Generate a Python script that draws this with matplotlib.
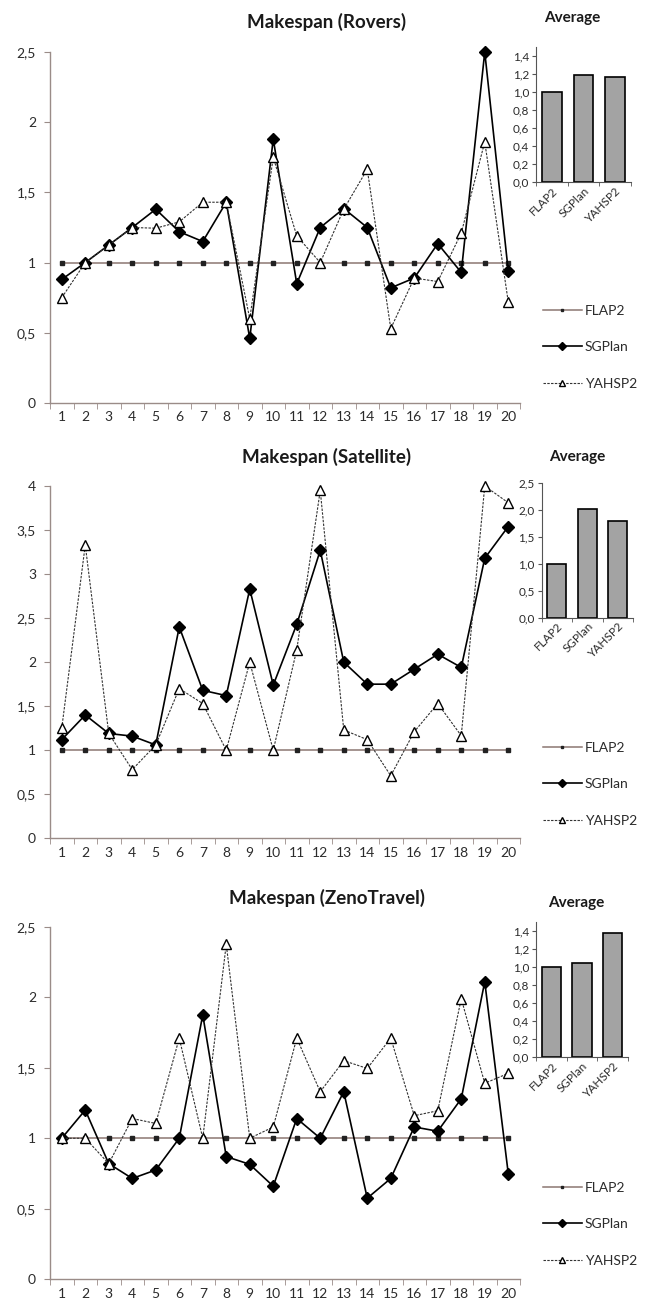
from matplotlib import pyplot as plt
from matplotlib.ticker import FuncFormatter, FixedLocator
import numpy as np

plt.rcParams['font.family'] = ['Lato', 'DejaVu Sans']

W, H = 645, 1307

problems = list(range(1, 21))
planners = ["FLAP2", "SGPlan", "YAHSP2"]

rovers_flap2 = [1] * 20
rovers_sgplan = [0.88, 1.0, 1.125, 1.25, 1.38, 1.22, 1.15, 1.43, 0.46, 1.88,
                 0.85, 1.25, 1.385, 1.25, 0.82, 0.89, 1.135, 0.93, 2.5, 0.94]
rovers_yahsp2 = [0.75, 1.0, 1.125, 1.25, 1.245, 1.29, 1.43, 1.43, 0.60, 1.75,
                 1.19, 1.0, 1.38, 1.665, 0.53, 0.89, 0.865, 1.21, 1.86, 0.72]
rovers_avg = [1.0, 1.19, 1.17]

satellite_flap2 = [1] * 20
satellite_sgplan = [1.12, 1.40, 1.19, 1.16, 1.06, 2.40, 1.68, 1.62, 2.83, 1.74,
                    2.43, 3.27, 2.0, 1.75, 1.75, 1.92, 2.09, 1.94, 3.18, 3.54]
satellite_yahsp2 = [1.25, 3.33, 1.19, 0.78, 1.06, 1.70, 1.53, 1.0, 2.0, 1.0,
                    2.14, 3.95, 1.23, 1.12, 0.71, 1.21, 1.53, 1.165, 4.0, 3.81]
satellite_avg = [1.0, 2.03, 1.80]

zeno_flap2 = [1] * 20
zeno_sgplan = [1.0, 1.20, 0.82, 0.715, 0.775, 1.0, 1.875, 0.87, 0.815, 0.66,
               1.14, 1.0, 1.33, 0.575, 0.715, 1.08, 1.05, 1.28, 2.11, 0.75]
zeno_yahsp2 = [1.0, 1.0, 0.82, 1.14, 1.105, 1.71, 1.0, 2.375, 1.0, 1.08,
               1.71, 1.33, 1.55, 1.495, 1.71, 1.16, 1.195, 1.99, 1.39, 1.46]
zeno_avg = [1.0, 1.045, 1.375]

panels = [
    dict(title="Makespan (Rovers)", flap2=rovers_flap2, sgplan=rovers_sgplan,
         yahsp2=rovers_yahsp2, avg=rovers_avg, ymax=2.5, ystep=0.5,
         main=(50, 520, 52, 403), inset=(536, 631, 46.7, 182.3),
         imax=1.5, iticks=np.arange(0, 1.41, 0.2),
         title_y=22, avg_x=572, avg_y=18, leg_y=305),
    dict(title="Makespan (Satellite)", flap2=satellite_flap2, sgplan=satellite_sgplan,
         yahsp2=satellite_yahsp2, avg=satellite_avg, ymax=4, ystep=0.5,
         main=(50, 520, 486, 838.3), inset=(541.7, 633, 483.3, 617.7),
         imax=2.5, iticks=np.arange(0, 2.51, 0.5),
         title_y=457, avg_x=577, avg_y=457, leg_y=742),
    dict(title="Makespan (ZenoTravel)", flap2=zeno_flap2, sgplan=zeno_sgplan,
         yahsp2=zeno_yahsp2, avg=zeno_avg, ymax=2.5, ystep=0.5,
         main=(50, 520, 926.7, 1279.3), inset=(536, 628, 921.7, 1057.3),
         imax=1.5, iticks=np.arange(0, 1.41, 0.2),
         title_y=898, avg_x=576, avg_y=903, leg_y=1182),
]

axis_col = '#9a8c88'
text_col = '#2b2b2b'


def fig_rect(l, r, t, b):
    return [l / W, 1 - b / H, (r - l) / W, (b - t) / H]


fig = plt.figure(figsize=(W / 100, H / 100), dpi=100)

for p in panels:
    ax = fig.add_axes(fig_rect(*p["main"]))
    ax.plot(problems, p["flap2"], color='#8c7672', lw=1.1, marker='s', ms=3,
            mfc='#222222', mec='#222222', label="FLAP2", zorder=2)
    ax.plot(problems, p["sgplan"], color='black', lw=1.2, marker='D', ms=6.5,
            mfc='black', mec='black', label="SGPlan", zorder=3, clip_on=False)
    ax.plot(problems, p["yahsp2"], color='#333333', lw=0.8, ls=(0, (2.2, 1.2)),
            marker='^', ms=6.5, mfc='white', mec='black', mew=1.0,
            label="YAHSP2", zorder=4, clip_on=False)
    ax.set_xlim(0.5, 20.5)
    ax.set_ylim(0, p["ymax"])
    ax.set_xticks(problems)
    ax.xaxis.set_minor_locator(FixedLocator(np.arange(0.5, 21, 1)))
    ax.tick_params(axis='x', which='major', length=0, pad=6, labelsize=10,
                   labelcolor=text_col)
    ax.tick_params(axis='x', which='minor', length=4, color=axis_col, direction='out')
    ax.set_yticks(np.arange(0, p["ymax"] + 0.01, p["ystep"]))
    ax.yaxis.set_major_formatter(FuncFormatter(lambda v, _: f"{v:g}".replace('.', ',')))
    ax.tick_params(axis='y', length=4, color=axis_col, labelsize=10,
                   labelcolor=text_col, pad=6)
    for s in ['top', 'right']:
        ax.spines[s].set_visible(False)
    for s in ['left', 'bottom']:
        ax.spines[s].set_color(axis_col)
        ax.spines[s].set_linewidth(1.0)

    leg = ax.legend(loc='upper left', bbox_to_anchor=(543 / W, 1 - p["leg_y"] / H),
                    bbox_transform=fig.transFigure, frameon=False, fontsize=10,
                    handlelength=2.8, handletextpad=0.2, labelspacing=1.75,
                    borderpad=0, borderaxespad=0, markerscale=0.7)
    for t in leg.get_texts():
        t.set_color(text_col)

    fig.text(327 / W, 1 - p["title_y"] / H, p["title"], ha='center', va='center',
             fontsize=13.5, fontweight='bold', color='#1a1a1a')

    ia = fig.add_axes(fig_rect(*p["inset"]))
    ia.bar(planners, p["avg"], width=0.62, color='#a3a3a3', edgecolor='black', lw=1.2)
    ia.set_xlim(-0.5, 2.5)
    ia.set_ylim(0, p["imax"])
    ia.set_yticks(p["iticks"])
    ia.yaxis.set_major_formatter(FuncFormatter(lambda v, _: f"{v:.1f}".replace('.', ',')))
    ia.xaxis.set_minor_locator(FixedLocator([-0.5, 0.5, 1.5, 2.5]))
    ia.tick_params(axis='x', which='major', length=0, labelsize=8.5, pad=2,
                   labelcolor=text_col)
    ia.tick_params(axis='x', which='minor', length=3, color='#555555')
    ia.tick_params(axis='y', length=3, color='#555555', labelsize=8.5, pad=2,
                   labelcolor=text_col)
    for lab in ia.get_xticklabels():
        lab.set_rotation(45)
        lab.set_ha('right')
        lab.set_rotation_mode('anchor')
    for s in ['top', 'right']:
        ia.spines[s].set_visible(False)
    for s in ['left', 'bottom']:
        ia.spines[s].set_color('#555555')
    fig.text(p["avg_x"] / W, 1 - p["avg_y"] / H, "Average", ha='center', va='center',
             fontsize=11, fontweight='bold', color='#1a1a1a')

fig.savefig("out.png", dpi=100, facecolor='white')
